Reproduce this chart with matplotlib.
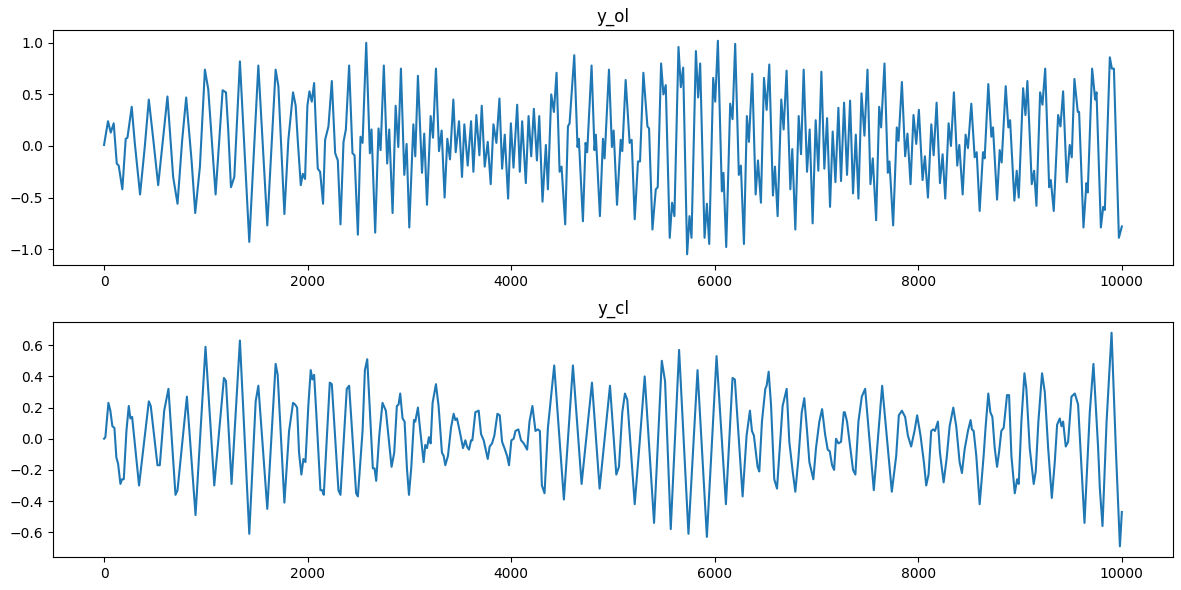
import numpy as np
import matplotlib
matplotlib.use('Agg')
import matplotlib.pyplot as plt

# y_ol: turning points (sample index, value)
ol_x = [0, 39, 66, 95, 125, 144, 180, 213, 230, 272, 302, 354, 400, 440, 482, 532,
        623, 679, 722, 768, 807, 860, 896, 942, 991, 1024, 1096, 1165, 1198, 1220,
        1247, 1280, 1335, 1427, 1516, 1604, 1686, 1713, 1772, 1811, 1857, 1883, 1903,
        1933, 1953, 1975, 1998, 2018, 2041, 2064, 2080, 2100, 2123, 2152, 2172, 2205,
        2238, 2271, 2297, 2323, 2353, 2376, 2408, 2441, 2461, 2494, 2520, 2540, 2576,
        2612, 2628, 2664, 2697, 2717, 2749, 2782, 2802, 2835, 2865, 2891, 2917, 2950,
        2973, 2999, 3039, 3058, 3084, 3124, 3146, 3173, 3209, 3232, 3261, 3291, 3317,
        3346, 3373, 3399, 3432, 3455, 3488, 3517, 3540, 3573, 3606, 3629, 3658, 3688,
        3711, 3740, 3770, 3799, 3826, 3855, 3885, 3911, 3937, 3970, 3997, 4023, 4059,
        4085, 4108, 4144, 4171, 4197, 4223, 4253, 4276, 4308, 4341, 4361, 4394, 4420,
        4446, 4476, 4495, 4531, 4558, 4574, 4620, 4652, 4665, 4705, 4731, 4747, 4790,
        4819, 4832, 4872, 4902, 4918, 4961, 4990, 5007, 5040, 5076, 5092, 5125, 5164,
        5184, 5214, 5246, 5266, 5299, 5339, 5355, 5388, 5421, 5440, 5473, 5496, 5519,
        5558, 5581, 5604, 5644, 5667, 5690, 5729, 5752, 5772, 5815, 5837, 5857, 5900,
        5923, 5946, 5985, 6005, 6031, 6070, 6086, 6113, 6152, 6175, 6201, 6237, 6257,
        6287, 6316, 6336, 6369, 6402, 6425, 6454, 6484, 6510, 6536, 6572, 6592, 6618,
        6654, 6677, 6706, 6743, 6762, 6792, 6825, 6848, 6874, 6907, 6933, 6962, 6992,
        7018, 7048, 7077, 7104, 7133, 7159, 7186, 7215, 7241, 7271, 7300, 7330, 7359,
        7386, 7412, 7442, 7471, 7501, 7530, 7553, 7586, 7616, 7635, 7668, 7701, 7717,
        7753, 7789, 7806, 7839, 7871, 7894, 7924, 7953, 7980, 8006, 8042, 8065, 8095,
        8128, 8151, 8180, 8213, 8239, 8265, 8298, 8321, 8350, 8383, 8403, 8436, 8465,
        8488, 8521, 8554, 8574, 8603, 8636, 8652, 8688, 8718, 8734, 8774, 8800, 8819,
        8859, 8885, 8902, 8944, 8967, 8987, 9030, 9053, 9072, 9115, 9138, 9161, 9197,
        9220, 9247, 9286, 9302, 9331, 9374, 9397, 9423, 9459, 9488, 9508, 9534, 9567,
        9580, 9623, 9652, 9665, 9708, 9738, 9751, 9794, 9817, 9833, 9882, 9902, 9922,
        9971, 10000]
ol_y = [0.01, 0.24, 0.13, 0.22, -0.17, -0.19, -0.42, 0.07, 0.08, 0.38, 0.03, -0.47, -0.01,
        0.45, 0.08, -0.38, 0.48, -0.30, -0.56, 0.06, 0.47, -0.14, -0.65, -0.20, 0.74, 0.55,
        -0.47, 0.54, 0.52, 0.16, -0.40, -0.30, 0.82, -0.93, 0.78, -0.77, 0.74, 0.58, -0.66,
        0.06, 0.52, 0.39, 0.06, -0.38, -0.27, -0.32, 0.39, 0.53, 0.43, 0.61, 0.22, -0.22,
        -0.25, -0.56, 0.06, 0.19, 0.63, -0.07, -0.14, -0.76, 0.04, 0.16, 0.78, -0.07, -0.09,
        -0.86, 0.09, 0.03, 1.00, -0.07, 0.16, -0.84, 0.17, -0.04, 0.78, -0.17, 0.16, -0.65,
        0.39, -0.01, 0.75, -0.28, 0.02, -0.79, 0.21, -0.10, 0.68, -0.26, 0.12, -0.57, 0.29,
        0.08, 0.75, -0.05, 0.15, -0.50, 0.07, -0.13, 0.45, -0.06, 0.24, -0.30, 0.21, -0.19,
        0.24, -0.25, 0.30, -0.09, 0.39, -0.20, 0.04, -0.37, 0.21, 0.03, 0.46, -0.22, 0.11,
        -0.51, 0.22, -0.21, 0.40, -0.25, 0.24, -0.36, 0.29, -0.10, 0.36, -0.14, 0.29, -0.54,
        0.01, -0.42, 0.50, 0.33, 0.71, -0.25, -0.20, -0.76, 0.19, 0.22, 0.88, -0.01, 0.07,
        -0.73, 0.03, -0.06, 0.78, -0.04, 0.11, -0.68, 0.07, -0.12, 0.74, -0.01, 0.15, -0.57,
        0.06, -0.05, 0.64, 0.03, 0.06, -0.71, -0.15, -0.15, 0.71, 0.19, 0.17, -0.81, -0.42,
        -0.40, 0.80, 0.50, 0.59, -0.89, -0.55, -0.68, 0.96, 0.57, 0.76, -1.05, -0.68, -0.89,
        0.92, 0.47, 0.80, -0.89, -0.56, -0.95, 0.66, 0.43, 1.02, -0.44, -0.26, -0.98, 0.41,
        0.26, 0.99, -0.28, -0.19, -0.95, 0.29, 0.04, 0.70, -0.47, -0.14, -0.55, 0.66, 0.35,
        0.79, -0.48, -0.20, -0.68, 0.45, 0.16, 0.73, -0.42, -0.03, -0.81, 0.29, -0.08, 0.74,
        -0.25, 0.16, -0.75, 0.25, -0.24, 0.72, -0.22, 0.27, -0.59, 0.14, -0.35, 0.37, -0.34,
        0.42, -0.28, 0.44, -0.46, 0.11, -0.51, 0.51, 0.10, 0.74, -0.37, -0.12, -0.72, 0.38,
        0.18, 0.80, -0.26, -0.15, -0.77, 0.18, 0.05, 0.62, -0.10, 0.12, -0.37, 0.30, 0.02,
        0.35, -0.33, -0.10, -0.50, 0.21, -0.09, 0.42, -0.36, -0.08, -0.51, 0.22, 0.00, 0.52,
        -0.19, 0.01, -0.47, 0.11, -0.02, 0.41, -0.11, -0.06, -0.63, -0.06, -0.12, 0.60, 0.09,
        0.18, -0.52, -0.04, -0.16, 0.58, 0.18, 0.25, -0.53, -0.24, -0.50, 0.56, 0.30, 0.63,
        -0.37, -0.24, -0.58, 0.52, 0.40, 0.75, -0.40, -0.33, -0.63, 0.30, 0.19, 0.53, -0.35,
        0.01, -0.11, 0.65, 0.33, 0.33, -0.79, -0.36, -0.45, 0.75, 0.45, 0.52, -0.79, -0.59,
        -0.62, 0.86, 0.75, 0.75, -0.89, -0.78]

# y_cl: turning points (sample index, value)
cl_x = [0, 13, 43, 62, 82, 102, 121, 138, 161, 177, 194, 220, 243, 259, 276, 344, 440,
        459, 525, 548, 591, 633, 702, 722, 814, 899, 997, 1083, 1178, 1198, 1253, 1335,
        1427, 1490, 1516, 1604, 1686, 1706, 1772, 1818, 1857, 1877, 1897, 1916, 1939,
        1959, 1979, 2008, 2031, 2047, 2064, 2090, 2126, 2143, 2159, 2218, 2238, 2303,
        2323, 2385, 2408, 2477, 2494, 2540, 2563, 2586, 2609, 2641, 2658, 2674, 2704,
        2736, 2769, 2795, 2825, 2851, 2877, 2894, 2910, 2933, 2953, 2976, 2996, 3019,
        3045, 3058, 3084, 3107, 3140, 3156, 3173, 3192, 3209, 3228, 3261, 3287, 3320,
        3337, 3353, 3379, 3409, 3435, 3452, 3468, 3494, 3527, 3550, 3566, 3586, 3606,
        3619, 3648, 3681, 3704, 3730, 3770, 3789, 3812, 3835, 3865, 3888, 3911, 3934,
        3960, 3979, 4002, 4025, 4042, 4071, 4097, 4124, 4157, 4180, 4209, 4239, 4262,
        4282, 4302, 4328, 4361, 4387, 4423, 4518, 4607, 4692, 4794, 4869, 4971, 5033,
        5059, 5092, 5118, 5141, 5214, 5263, 5312, 5404, 5480, 5512, 5568, 5650, 5742,
        5831, 5923, 6018, 6110, 6175, 6198, 6274, 6313, 6346, 6366, 6385, 6421, 6438,
        6464, 6497, 6510, 6530, 6553, 6585, 6612, 6641, 6667, 6707, 6733, 6766, 6792,
        6822, 6855, 6880, 6907, 6930, 6969, 6995, 7028, 7055, 7084, 7110, 7130, 7153,
        7173, 7192, 7215, 7241, 7268, 7278, 7300, 7327, 7359, 7382, 7412, 7445, 7478,
        7563, 7645, 7740, 7783, 7809, 7839, 7871, 7898, 7930, 7963, 7989, 8022, 8055,
        8078, 8101, 8127, 8147, 8164, 8193, 8213, 8249, 8278, 8308, 8344, 8373, 8406,
        8429, 8455, 8488, 8514, 8527, 8544, 8570, 8603, 8642, 8662, 8688, 8708, 8728,
        8751, 8774, 8793, 8816, 8839, 8872, 8892, 8915, 8948, 8971, 8987, 9013, 9043,
        9062, 9095, 9134, 9154, 9180, 9216, 9243, 9276, 9312, 9341, 9364, 9390, 9407,
        9423, 9449, 9472, 9505, 9538, 9570, 9633, 9685, 9721, 9767, 9784, 9810, 9850,
        9899, 9942, 9981, 10000]
cl_y = [0.00, 0.01, 0.23, 0.18, 0.08, 0.07, -0.12, -0.16, -0.29, -0.26, -0.26, 0.05, 0.21,
        0.13, 0.14, -0.30, 0.24, 0.21, -0.17, -0.17, 0.18, 0.32, -0.36, -0.33, 0.27, -0.49,
        0.59, -0.30, 0.39, 0.37, -0.29, 0.63, -0.61, 0.24, 0.34, -0.45, 0.48, 0.41, -0.41,
        0.05, 0.23, 0.22, 0.20, -0.09, -0.23, -0.13, -0.15, 0.22, 0.44, 0.38, 0.41, 0.11,
        -0.33, -0.33, -0.36, 0.36, 0.35, -0.33, -0.36, 0.32, 0.34, -0.35, -0.37, 0.05, 0.44,
        0.51, 0.22, -0.19, -0.19, -0.27, 0.02, 0.23, 0.18, 0.01, -0.18, -0.09, 0.21, 0.22,
        0.29, 0.13, 0.11, -0.19, -0.36, -0.18, 0.12, 0.11, 0.20, 0.05, -0.15, -0.04, -0.06,
        0.01, -0.03, 0.23, 0.35, 0.21, -0.09, -0.11, -0.17, -0.11, 0.07, 0.16, 0.12, 0.13,
        0.05, -0.06, -0.01, -0.05, -0.07, -0.01, -0.01, 0.17, 0.18, 0.03, -0.01, -0.13,
        -0.05, -0.03, 0.02, 0.16, 0.15, -0.02, -0.06, -0.11, -0.17, -0.01, 0.00, 0.05, 0.06,
        -0.01, -0.03, -0.07, 0.11, 0.21, 0.05, 0.06, 0.05, -0.30, -0.35, 0.07, 0.24, 0.47,
        -0.39, 0.47, -0.29, 0.36, -0.32, 0.34, -0.23, -0.18, 0.17, 0.29, 0.25, -0.42, -0.02,
        0.40, -0.54, 0.50, 0.37, -0.58, 0.57, -0.61, 0.44, -0.63, 0.53, -0.42, 0.39, 0.38,
        -0.37, 0.02, 0.18, 0.05, 0.02, -0.18, -0.21, 0.11, 0.32, 0.34, 0.43, 0.22, -0.26,
        -0.32, -0.04, 0.21, 0.32, -0.02, -0.21, -0.34, -0.13, 0.17, 0.26, 0.05, -0.15, -0.26,
        -0.06, 0.11, 0.19, 0.03, -0.07, -0.08, -0.17, -0.20, 0.00, -0.03, -0.02, 0.17, 0.17,
        0.11, -0.03, -0.20, -0.23, 0.11, 0.27, 0.32, -0.33, 0.34, -0.34, -0.11, 0.15, 0.18,
        0.14, 0.02, -0.05, 0.05, 0.15, 0.02, -0.15, -0.30, -0.23, 0.05, 0.06, 0.05, 0.11,
        -0.09, -0.28, -0.13, 0.08, 0.20, 0.08, -0.15, -0.22, -0.07, 0.05, 0.12, 0.06, 0.05,
        -0.11, -0.42, -0.11, 0.08, 0.29, 0.17, 0.14, -0.06, -0.18, -0.09, 0.05, 0.07, 0.28,
        0.28, -0.11, -0.35, -0.26, -0.29, 0.11, 0.42, 0.32, -0.06, -0.29, -0.21, 0.11, 0.42,
        0.30, -0.06, -0.38, -0.15, 0.09, 0.13, 0.08, 0.11, -0.05, -0.02, 0.27, 0.29, 0.22,
        -0.54, 0.17, 0.48, -0.06, -0.32, -0.56, 0.11, 0.68, -0.08, -0.69, -0.47]

titles = ['y_ol', 'y_cl']


def plot_signals():
    fig, axes = plt.subplots(2, 1, figsize=(11.81, 5.9), dpi=100)
    series = [(ol_x, ol_y), (cl_x, cl_y)]
    for ax, (xs, ys), title in zip(axes, series, titles):
        ax.plot(np.array(xs), np.array(ys))
        ax.set_title(title)
    # margins picked to line up with the original figure
    fig.subplots_adjust(left=0.045, right=0.993, top=0.949, bottom=0.056, hspace=0.243)
    fig.savefig('out.png', dpi=100)


if __name__ == '__main__':
    plot_signals()
